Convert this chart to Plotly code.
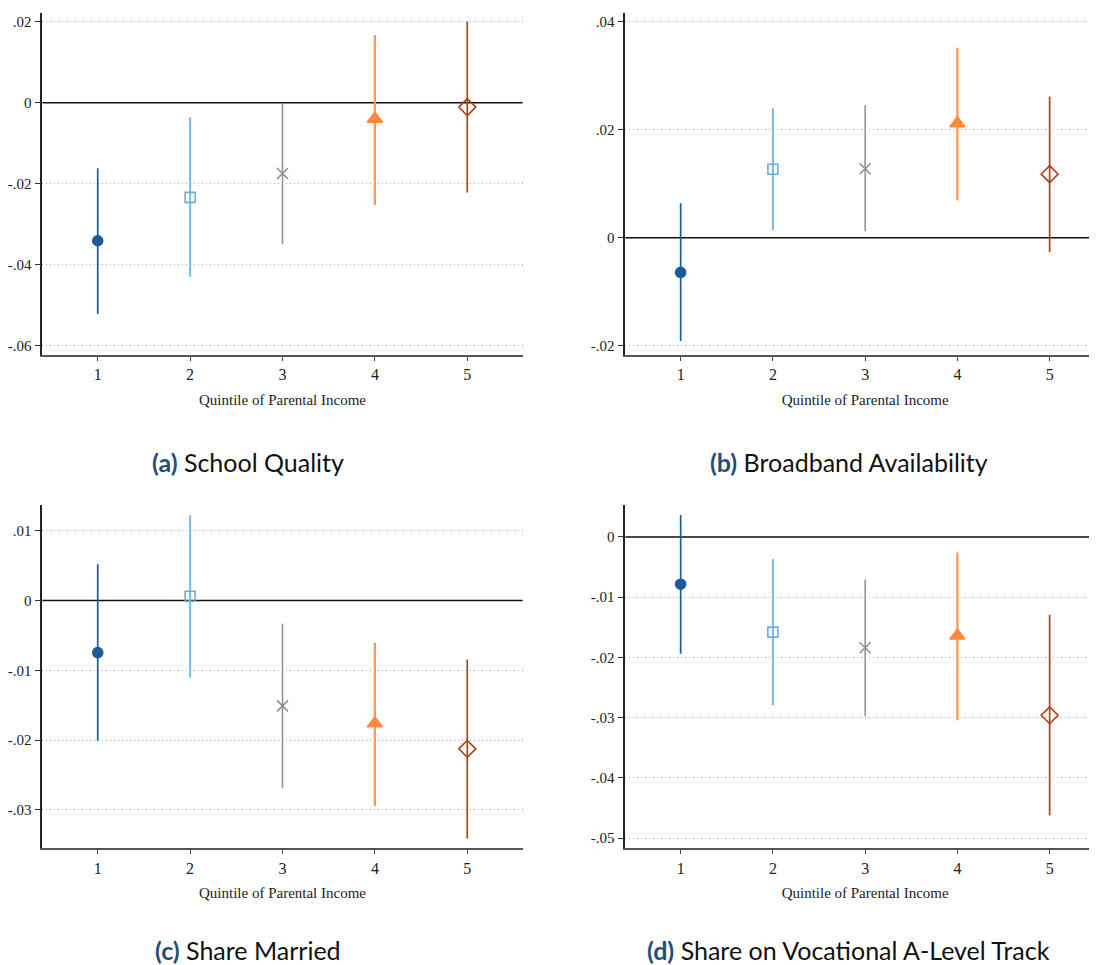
import plotly.graph_objects as go

quintiles = [1, 2, 3, 4, 5]
tick_x = ["1", "2", "3", "4", "5"]

# (a) School Quality
a_est = [-0.0341, -0.0234, -0.0175, -0.0040, -0.0011]
a_lo = [-0.0522, -0.0430, -0.0349, -0.0253, -0.0222]
a_hi = [-0.0162, -0.0036, -0.0003, 0.0167, 0.0200]
a_ticks = [-0.06, -0.04, -0.02, 0, 0.02]
a_labels = ["-.06", "-.04", "-.02", "0", ".02"]

# (b) Broadband Availability
b_est = [-0.0064, 0.0127, 0.0128, 0.0212, 0.0118]
b_lo = [-0.0191, 0.0014, 0.0012, 0.0069, -0.0026]
b_hi = [0.0064, 0.0240, 0.0246, 0.0352, 0.0262]
b_ticks = [-0.02, 0, 0.02, 0.04]
b_labels = ["-.02", "0", ".02", ".04"]

# (c) Share Married
c_est = [-0.00745, 0.00062, -0.01509, -0.01762, -0.02125]
c_lo = [-0.0201, -0.01103, -0.02684, -0.02942, -0.0341]
c_hi = [0.0052, 0.01223, -0.0033, -0.00602, -0.00845]
c_ticks = [-0.03, -0.02, -0.01, 0, 0.01]
c_labels = ["-.03", "-.02", "-.01", "0", ".01"]

# (d) Share on Vocational A-Level Track
d_est = [-0.00785, -0.0158, -0.0184, -0.0164, -0.02961]
d_lo = [-0.01939, -0.02796, -0.02978, -0.03044, -0.04624]
d_hi = [0.00365, -0.0037, -0.00707, -0.0026, -0.01293]
d_ticks = [-0.05, -0.04, -0.03, -0.02, -0.01, 0]
d_labels = ["-.05", "-.04", "-.03", "-.02", "-.01", "0"]

captions = [("(a)", "School Quality"), ("(b)", "Broadband Availability"),
            ("(c)", "Share Married"), ("(d)", "Share on Vocational A-Level Track")]
x_title = "Quintile of Parental Income"

line_colors = ["#1c5a98", "#7dbbe3", "#8f8f8f", "#fc9a55", "#b0401c"]
marker_colors = ["#1c5a98", "#6aaed8", "#8f8f8f", "#fd8a3a", "#b0401c"]
symbols = ["circle", "square-open", "x-thin-open", "triangle-up", "diamond-open"]
msizes = [10, 10, 11, 13, 13]
lwidths = [1.7, 2.1, 1.5, 2.3, 1.7]

W, H = 1097, 965
OFF = 8  # page body margin
panels = [
    dict(est=a_est, lo=a_lo, hi=a_hi, ticks=a_ticks, labels=a_labels, yr=[-0.0623, 0.0222],
         px=(42.3, 522.7), py=(12.7, 355.0), xr=[0.4, 5.6]),
    dict(est=b_est, lo=b_lo, hi=b_hi, ticks=b_ticks, labels=b_labels, yr=[-0.0217, 0.0417],
         px=(625.3, 1105.0), py=(12.7, 355.0), xr=[0.4, 5.6]),
    dict(est=c_est, lo=c_lo, hi=c_hi, ticks=c_ticks, labels=c_labels, yr=[-0.0355, 0.0137],
         px=(42.3, 522.7), py=(505.0, 848.3), xr=[0.4, 5.6]),
    dict(est=d_est, lo=d_lo, hi=d_hi, ticks=d_ticks, labels=d_labels, yr=[-0.0517, 0.0053],
         px=(625.3, 1105.0), py=(505.0, 848.3), xr=[0.4, 5.6]),
]
cap_pos = [(248, 462), (848.5, 462), (248, 950), (848.5, 950)]

fig = go.Figure()
layout = dict(width=W, height=H, margin=dict(l=0, r=0, t=0, b=0),
              paper_bgcolor="white", plot_bgcolor="white", showlegend=False,
              font=dict(family="Liberation Serif", color="#222222"))
annotations = []

def fx(v):
    return min(1.0, max(0.0, (v - OFF) / W))

def fy(v):
    return min(1.0, max(0.0, 1 - (v - OFF) / H))

for i, p in enumerate(panels):
    n = i + 1
    xa = "x" if n == 1 else f"x{n}"
    ya = "y" if n == 1 else f"y{n}"
    # zero reference line (drawn first: above grid, below markers)
    fig.add_trace(go.Scatter(
        x=p["xr"], y=[0, 0], xaxis=xa, yaxis=ya, mode="lines",
        line=dict(color="#111", width=1.5), hoverinfo="skip"))
    for q in range(5):
        fig.add_trace(go.Scatter(
            x=[quintiles[q]], y=[p["est"][q]], xaxis=xa, yaxis=ya, mode="markers",
            marker=dict(symbol=symbols[q], size=msizes[q], color=marker_colors[q],
                        line=dict(width=1.6, color=marker_colors[q])),
            error_y=dict(type="data", symmetric=False,
                         array=[p["hi"][q] - p["est"][q]],
                         arrayminus=[p["est"][q] - p["lo"][q]],
                         width=0, thickness=lwidths[q], color=line_colors[q]),
            cliponaxis=False, hoverinfo="skip"))
    xdom = [fx(p["px"][0]), fx(p["px"][1])]
    ydom = [fy(p["py"][1]), fy(p["py"][0])]
    layout["xaxis" if n == 1 else f"xaxis{n}"] = dict(
        domain=xdom, anchor=ya, range=p["xr"], tickmode="array", tickvals=quintiles,
        ticktext=tick_x, ticks="outside", ticklen=4, tickwidth=1.2, tickcolor="#444",
        showline=True, linecolor="#555", linewidth=2, showgrid=False, zeroline=False,
        tickfont=dict(size=16, family="Liberation Serif", color="#222"),
        title=dict(text=x_title, standoff=12, font=dict(size=15, family="Liberation Serif", color="#222")))
    layout["yaxis" if n == 1 else f"yaxis{n}"] = dict(
        domain=ydom, anchor=xa, range=p["yr"], tickmode="array", tickvals=p["ticks"],
        ticktext=p["labels"], ticks="outside", ticklen=6, tickwidth=1.2, tickcolor="#333",
        showline=True, linecolor="#222", linewidth=1.5, showgrid=True, gridcolor="#a8a8a8",
        griddash="1px,3px", gridwidth=1, zeroline=False,
        tickfont=dict(size=15, family="Liberation Serif", color="#222"))
    lab, txt = captions[i]
    cx, cy = cap_pos[i]
    annotations.append(dict(
        x=(cx - OFF) / W, y=1 - (cy - OFF) / H, xref="paper", yref="paper", showarrow=False,
        xanchor="center", yanchor="middle",
        text=f"<span style='color:#1f4e79'><b>{lab}</b></span> {txt}",
        font=dict(family="Lato", size=25, color="#111")))

layout["annotations"] = annotations
fig.update_layout(**layout)
fig.write_html("out.html")
